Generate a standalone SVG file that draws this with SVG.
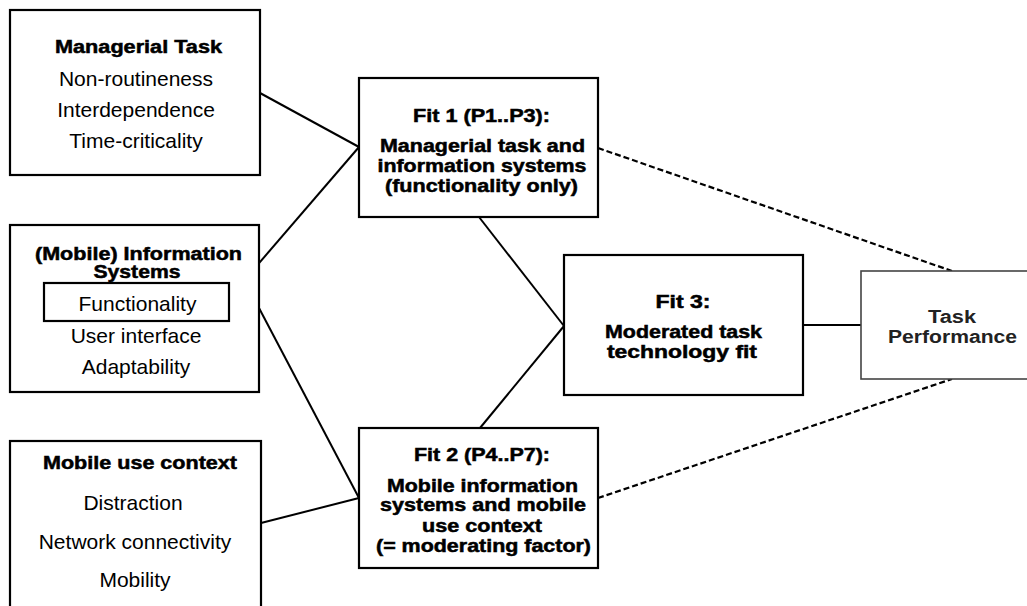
<svg xmlns="http://www.w3.org/2000/svg" width="1027" height="606" viewBox="0 0 1027 606">
<style>
.box{fill:#fff;stroke:#000;stroke-width:2.2}
.tp{fill:#fff;stroke:#444;stroke-width:1.6}
.t{font-family:"Liberation Sans",Arial,sans-serif;font-size:21px;fill:#000;text-anchor:middle}
.b{font-family:"Liberation Sans",Arial,sans-serif;font-size:18px;font-weight:bold;fill:#000;stroke:#000;stroke-width:0.5;text-anchor:middle}
.b2{font-family:"Liberation Sans",Arial,sans-serif;font-size:18px;font-weight:bold;fill:#222;text-anchor:middle}
.ln{stroke:#000;stroke-width:2;fill:none}
.ds{stroke:#000;stroke-width:2.2;fill:none;stroke-dasharray:6 3}
</style>
<rect width="1027" height="606" fill="#fff"/>
<g id="connectors">
<line class="ln" x1="260" y1="93" x2="359" y2="147"/>
<line class="ln" x1="229" y1="298" x2="359" y2="147"/>
<line class="ln" x1="259" y1="308" x2="359" y2="498"/>
<line class="ln" x1="261" y1="523" x2="359" y2="498"/>
<line class="ln" x1="479" y1="217" x2="564" y2="326"/>
<line class="ln" x1="480" y1="428" x2="564" y2="326"/>
<line class="ln" x1="803" y1="325" x2="861" y2="325"/>
<line class="ds" x1="598" y1="148" x2="952" y2="271"/>
<line class="ds" x1="598" y1="498" x2="952" y2="379"/>
</g>
<g id="managerial-task">
<rect class="box" x="10" y="10" width="250" height="165"/>
<text class="b" x="138.5" y="53" textLength="167" lengthAdjust="spacingAndGlyphs">Managerial Task</text>
<text class="t" x="136" y="86">Non-routineness</text>
<text class="t" x="136" y="117">Interdependence</text>
<text class="t" x="136" y="148">Time-criticality</text>
</g>
<g id="mobile-is">
<rect class="box" x="10" y="225" width="249" height="167"/>
<text class="b" x="138.5" y="260" textLength="207" lengthAdjust="spacingAndGlyphs">(Mobile) Information</text>
<text class="b" x="137" y="278" textLength="87" lengthAdjust="spacingAndGlyphs">Systems</text>
<rect class="box" x="44" y="283" width="185" height="38" stroke-width="1.8"/>
<text class="t" x="137.5" y="311">Functionality</text>
<text class="t" x="136" y="343">User interface</text>
<text class="t" x="136" y="374">Adaptability</text>
</g>
<g id="mobile-context">
<rect class="box" x="10" y="441" width="251" height="180"/>
<text class="b" x="140" y="469" textLength="194" lengthAdjust="spacingAndGlyphs">Mobile use context</text>
<text class="t" x="133" y="510">Distraction</text>
<text class="t" x="135" y="549">Network connectivity</text>
<text class="t" x="135" y="587">Mobility</text>
</g>
<g id="fit1">
<rect class="box" x="359" y="78" width="239" height="139"/>
<text class="b" x="481.5" y="122" textLength="137" lengthAdjust="spacingAndGlyphs">Fit 1 (P1..P3):</text>
<text class="b" x="482.5" y="152" textLength="205" lengthAdjust="spacingAndGlyphs">Managerial task and</text>
<text class="b" x="482" y="172" textLength="209" lengthAdjust="spacingAndGlyphs">information systems</text>
<text class="b" x="481.5" y="192" textLength="193" lengthAdjust="spacingAndGlyphs">(functionality only)</text>
</g>
<g id="fit2">
<rect class="box" x="359" y="428" width="239" height="140"/>
<text class="b" x="482" y="461" textLength="136" lengthAdjust="spacingAndGlyphs">Fit 2 (P4..P7):</text>
<text class="b" x="482.5" y="492" textLength="191" lengthAdjust="spacingAndGlyphs">Mobile information</text>
<text class="b" x="483" y="511" textLength="206" lengthAdjust="spacingAndGlyphs">systems and mobile</text>
<text class="b" x="482" y="532" textLength="120" lengthAdjust="spacingAndGlyphs">use context</text>
<text class="b" x="483.5" y="552" textLength="215" lengthAdjust="spacingAndGlyphs">(= moderating factor)</text>
</g>
<g id="fit3">
<rect class="box" x="564" y="255" width="239" height="140"/>
<text class="b" x="683" y="308" textLength="55" lengthAdjust="spacingAndGlyphs">Fit 3:</text>
<text class="b" x="683.5" y="338" textLength="157" lengthAdjust="spacingAndGlyphs">Moderated task</text>
<text class="b" x="682" y="358" textLength="150" lengthAdjust="spacingAndGlyphs">technology fit</text>
</g>
<g id="task-performance">
<rect class="tp" x="861" y="271" width="180" height="108"/>
<text class="b2" x="952" y="323" textLength="48" lengthAdjust="spacingAndGlyphs">Task</text>
<text class="b2" x="952.5" y="343" textLength="129" lengthAdjust="spacingAndGlyphs">Performance</text>
</g>
</svg>
